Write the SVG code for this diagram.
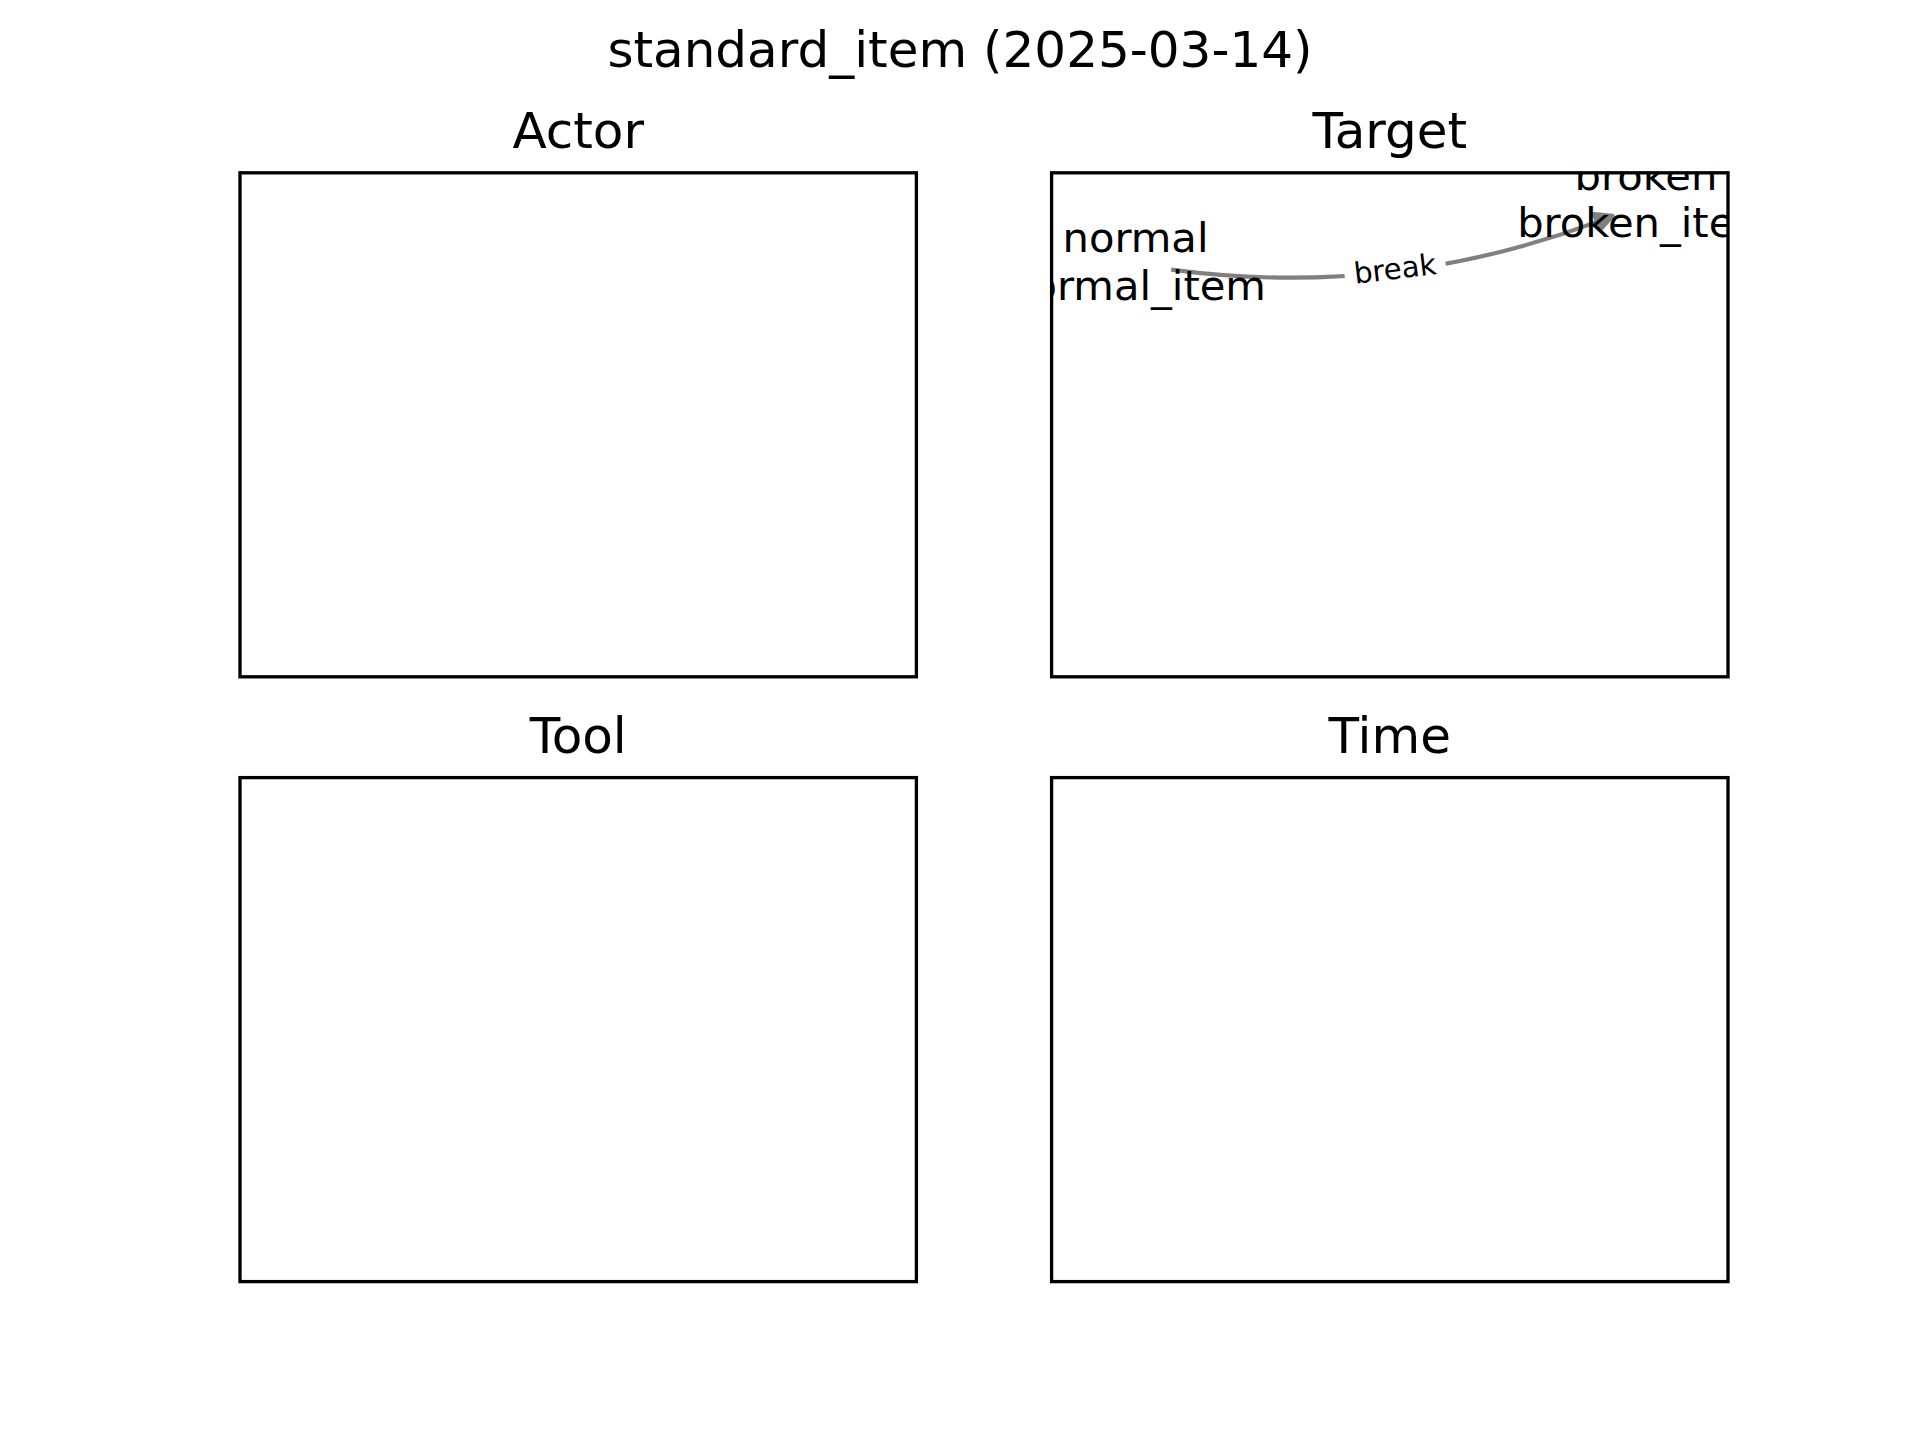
<svg xmlns="http://www.w3.org/2000/svg" width="1920" height="1440" viewBox="0 0 1920 1440">
  <style>
    .title { font-family: "DejaVu Sans", sans-serif; font-size: 50px; fill: #000; text-anchor: middle; }
    .axes { fill: none; stroke: #000; stroke-width: 3.33; stroke-linejoin: miter; }
    .nlabel { font-family: "DejaVu Sans", sans-serif; font-size: 41.67px; fill: #000; text-anchor: middle; }
    .elabel { font-family: "DejaVu Sans", sans-serif; font-size: 29.17px; fill: #000; text-anchor: middle; }
    .edge { fill: none; stroke: #808080; stroke-width: 4.17; stroke-linecap: butt; }
    .head { fill: #808080; stroke: #808080; stroke-width: 4.17; stroke-linejoin: round; }
  </style>
  <defs>
    <clipPath id="clipTarget">
      <rect x="1051.6" y="172.8" width="676.4" height="504"/>
    </clipPath>
  </defs>
  <rect x="0" y="0" width="1920" height="1440" fill="#fff"/>

  <text class="title" x="960" y="67">standard_item (2025-03-14)</text>

  <g id="panel-actor">
    <text class="title" x="578.2" y="147.8">Actor</text>
    <rect class="axes" x="240" y="172.8" width="676.4" height="504"/>
  </g>
  <g id="panel-target">
    <text class="title" x="1389.8" y="147.8">Target</text>
    <rect class="axes" x="1051.6" y="172.8" width="676.4" height="504"/>
  </g>
  <g id="panel-tool">
    <text class="title" x="578.2" y="752.6">Tool</text>
    <rect class="axes" x="240" y="777.6" width="676.4" height="504"/>
  </g>
  <g id="panel-time">
    <text class="title" x="1389.8" y="752.6">Time</text>
    <rect class="axes" x="1051.6" y="777.6" width="676.4" height="504"/>
  </g>

  <g clip-path="url(#clipTarget)">
    <g id="connectors">
      <g id="edge-normal-broken">
        <path class="edge" d="M1171.19,269.65 Q1391.68,299.06 1599.11,221.08"/>
        <polygon class="head" points="1612.7,215.8 1600.25,229.65 1594.15,214.15"/>
        <g transform="translate(1395.2,270.9) rotate(-6.9)">
          <rect x="-50.35" y="-22.85" width="100.7" height="45.7" rx="8.75" ry="8.75" fill="#fff" stroke="#fff"/>
          <text class="elabel" x="0" y="8.05">break</text>
        </g>
      </g>
    </g>
    <g id="node-normal">
      <text class="nlabel" x="1135.5" y="251.7">normal</text>
      <text class="nlabel" x="1135.5" y="299.7">normal_item</text>
    </g>
    <g id="node-broken">
      <text class="nlabel" x="1646" y="189.5">broken</text>
      <text class="nlabel" x="1646" y="237.3">broken_item</text>
    </g>
  </g>
</svg>
